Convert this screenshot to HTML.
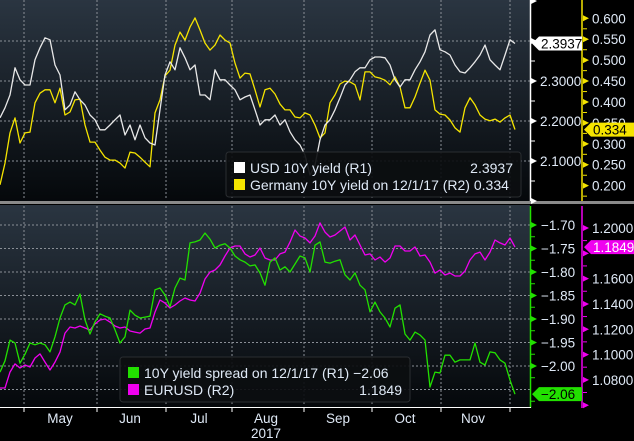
<!DOCTYPE html>
<html><head><meta charset="utf-8">
<style>
html,body{margin:0;padding:0;background:#000;}
svg{display:block;font-family:"Liberation Sans",sans-serif;}
</style></head>
<body>
<svg id="chart" width="634" height="441" viewBox="0 0 634 441" xmlns="http://www.w3.org/2000/svg">
<defs>
<linearGradient id="bg" x1="0" y1="0" x2="0" y2="1">
<stop offset="0" stop-color="#2a3541"/><stop offset="1" stop-color="#05080b"/>
</linearGradient>
</defs>
<rect x="0" y="0" width="530" height="201" fill="url(#bg)"/>
<rect x="0" y="205" width="530" height="202" fill="url(#bg)"/>
<rect x="0" y="201" width="634" height="3" fill="#8a8a8a"/>
<g id="grid"></g>
<g id="series"></g>
<g id="axes"></g>
<g id="legends"></g>
</svg>
<script>
const usd = [2.208,2.233,2.265,2.333,2.303,2.290,2.290,2.353,2.383,2.408,2.403,2.340,2.315,2.228,2.240,2.273,2.253,2.240,2.215,2.203,2.178,2.178,2.190,2.203,2.215,2.165,2.190,2.153,2.190,2.158,2.145,2.140,2.228,2.315,2.348,2.328,2.383,2.358,2.328,2.340,2.265,2.265,2.253,2.328,2.303,2.303,2.290,2.278,2.253,2.260,2.265,2.228,2.190,2.203,2.203,2.215,2.190,2.203,2.173,2.153,2.140,2.115,2.065,2.090,2.153,2.190,2.203,2.228,2.258,2.290,2.303,2.323,2.333,2.333,2.353,2.360,2.360,2.358,2.340,2.303,2.285,2.303,2.303,2.328,2.348,2.373,2.415,2.428,2.378,2.373,2.365,2.340,2.323,2.320,2.333,2.348,2.365,2.390,2.353,2.340,2.328,2.365,2.403,2.3937];
const germany = [0.202,0.254,0.326,0.362,0.302,0.326,0.328,0.398,0.421,0.429,0.429,0.398,0.433,0.369,0.376,0.405,0.407,0.345,0.304,0.304,0.285,0.268,0.261,0.261,0.254,0.242,0.280,0.278,0.268,0.256,0.245,0.374,0.405,0.462,0.476,0.536,0.567,0.548,0.579,0.601,0.572,0.541,0.524,0.536,0.560,0.548,0.541,0.493,0.457,0.469,0.467,0.429,0.388,0.429,0.433,0.419,0.395,0.381,0.381,0.364,0.362,0.374,0.369,0.345,0.314,0.326,0.398,0.417,0.443,0.450,0.448,0.441,0.405,0.472,0.472,0.460,0.457,0.452,0.441,0.460,0.436,0.386,0.386,0.412,0.445,0.476,0.452,0.381,0.371,0.369,0.357,0.338,0.328,0.386,0.410,0.393,0.369,0.359,0.355,0.359,0.352,0.362,0.369,0.334];
const spread = [-2.013,-1.989,-1.945,-1.951,-1.994,-1.975,-1.951,-1.955,-1.951,-1.955,-1.970,-1.938,-1.898,-1.870,-1.864,-1.870,-1.847,-1.902,-1.932,-1.906,-1.889,-1.894,-1.898,-1.923,-1.951,-1.938,-1.881,-1.892,-1.898,-1.896,-1.894,-1.838,-1.834,-1.849,-1.874,-1.834,-1.813,-1.817,-1.738,-1.736,-1.732,-1.717,-1.730,-1.749,-1.743,-1.740,-1.749,-1.766,-1.774,-1.779,-1.787,-1.785,-1.802,-1.828,-1.779,-1.770,-1.796,-1.789,-1.800,-1.783,-1.766,-1.770,-1.800,-1.743,-1.736,-1.779,-1.781,-1.777,-1.774,-1.806,-1.817,-1.802,-1.828,-1.838,-1.885,-1.864,-1.885,-1.898,-1.917,-1.877,-1.870,-1.932,-1.945,-1.928,-1.934,-1.945,-2.045,-2.013,-2.015,-1.977,-1.977,-1.992,-1.987,-1.987,-1.987,-1.951,-1.992,-1.998,-1.970,-1.972,-1.987,-1.994,-2.030,-2.06];
const eurusd = [1.0736,1.0736,1.0862,1.0926,1.0894,1.0918,1.0902,1.0973,1.1005,1.0941,1.0878,1.0941,1.1020,1.1170,1.1218,1.1210,1.1226,1.1210,1.1194,1.1242,1.1273,1.1281,1.1257,1.1226,1.1210,1.1218,1.1186,1.1178,1.1170,1.1202,1.1210,1.1336,1.1431,1.1407,1.1368,1.1392,1.1423,1.1447,1.1431,1.1423,1.1486,1.1597,1.1652,1.1668,1.1708,1.1779,1.1842,1.1858,1.1858,1.1795,1.1771,1.1787,1.1842,1.1763,1.1747,1.1747,1.1795,1.1810,1.1889,1.1984,1.1937,1.1921,1.1882,1.1937,1.2040,1.1968,1.1929,1.1945,1.1976,1.2008,1.1905,1.1945,1.1866,1.1787,1.1795,1.1747,1.1771,1.1731,1.1763,1.1858,1.1858,1.1818,1.1818,1.1850,1.1779,1.1787,1.1731,1.1644,1.1668,1.1629,1.1644,1.1621,1.1621,1.1660,1.1747,1.1795,1.1810,1.1747,1.1810,1.1905,1.1882,1.1866,1.1921,1.1849];
const months = ["May","Jun","Jul","Aug","Sep","Oct","Nov"];
const usdTicks = [2.1,2.2,2.3];
const gerTicks = [0.2,0.25,0.3,0.35,0.4,0.45,0.5,0.55,0.6];
const spreadTicks = [-1.70,-1.75,-1.80,-1.85,-1.90,-1.95,-2.00];
const eurTicks = [1.08,1.10,1.12,1.14,1.16,1.18,1.20];

const NS="http://www.w3.org/2000/svg";
function mk(tag, attrs, parent, text){const e=document.createElementNS(NS,tag);for(const k in attrs)e.setAttribute(k,attrs[k]);if(text!==undefined)e.textContent=text;parent.appendChild(e);return e;}
const N = usd.length;
const xS = i => i*515/(N-1);
const yUsd = v => 41 + (2.4 - v)*400;
const yGer = v => 18.3 + (0.6 - v)/0.00239;
const ySpr = v => 225 + (-1.70 - v)/0.002128;
const yEur = v => 228 + (1.2 - v)/0.00079;
const grid=document.getElementById('grid'), ser=document.getElementById('series'), ax=document.getElementById('axes'), lg=document.getElementById('legends');

// grid
const vx=[24,97,166,232,304,372,441,510];
vx.forEach(x=>{
  let l=mk('line',{x1:x,y1:0,x2:x,y2:200,stroke:'#8a8f96','stroke-width':1,'stroke-dasharray':'2,2'},grid);
  
  
  let l2=mk('line',{x1:x,y1:206,x2:x,y2:406,stroke:'#8a8f96','stroke-width':1,'stroke-dasharray':'2,2'},grid);
  
  
  let t=mk('line',{x1:x,y1:407,x2:x,y2:412,stroke:'#fff','stroke-width':1},ax);
  
  
});
[2.1,2.2,2.3,2.4].forEach(v=>{
  let l=mk('line',{x1:0,y1:yUsd(v),x2:530,y2:yUsd(v),stroke:'#8a8f96','stroke-width':1,'stroke-dasharray':'2,2'},grid);
  
  
});
[-1.70,-1.75,-1.80,-1.85,-1.90,-1.95,-2.00,-2.05].forEach(v=>{
  let l=mk('line',{x1:0,y1:ySpr(v),x2:530,y2:ySpr(v),stroke:'#8a8f96','stroke-width':1,'stroke-dasharray':'2,2'},grid);
  
  
});

// series
function line(arr, yf, color, name){
  const d=arr.map((v,i)=>(i?'L':'M')+xS(i).toFixed(1)+','+yf(v).toFixed(1)).join('');
  const p=mk('path',{d:d,fill:'none',stroke:color,'stroke-width':1.3,'stroke-linejoin':'round'},ser);
  
  
}
line(germany,yGer,'#f5e400','germany-10y-line');
line(usd,yUsd,'#e8e8e8','usd-10y-line');
line(eurusd,yEur,'#f000f0','eurusd-line');
line(spread,ySpr,'#22e000','spread-line');

// axes
function axisLine(x,y1,y2,color,name){const l=mk('line',{x1:x,y1:y1,x2:x,y2:y2,stroke:color,'stroke-width':1.5},ax);}
axisLine(530.5,0,201,'#ffffff','usd-axis-line');
axisLine(582,0,201,'#f5e400','germany-axis-line');
axisLine(530.5,206,408,'#22e000','spread-axis-line');
axisLine(582,206,408,'#f000f0','eurusd-axis-line');
const xl=mk('line',{x1:0,y1:407.5,x2:531,y2:407.5,stroke:'#fff','stroke-width':1},ax);



function tri(x,y,color,name){const p=mk('path',{d:`M${x},${y-3}L${x+6},${y}L${x},${y+3}Z`,fill:color},ax);}
function minor(x,y,color){const l=mk('line',{x1:x,y1:y,x2:x+4,y2:y,stroke:color,'stroke-width':1},ax);}
function label(x,y,txt,color,name){const t=mk('text',{x:x,y:y+5,fill:color,'font-size':13.5},ax,txt);}

[2.0,2.1,2.2,2.3,2.4,2.5].forEach(v=>{const y=yUsd(v);if(y>=0&&y<=201)tri(531,y,'#fff','usd-tick');});
[2.05,2.15,2.25,2.35].forEach(v=>minor(531,yUsd(v),'#fff'));
usdTicks.forEach(v=>label(540,yUsd(v),v.toFixed(4),'#dfe9f6','usd-tick-label'));
gerTicks.forEach(v=>{tri(583,yGer(v),'#f5e400','germany-tick');label(592,yGer(v),v.toFixed(3),'#dfe9f6','germany-tick-label');});
gerTicks.forEach(v=>minor(583,yGer(v)+10.5,'#f5e400'));
spreadTicks.forEach(v=>{tri(531,ySpr(v),'#22e000','spread-tick');label(541,ySpr(v),'\u2212'+Math.abs(v).toFixed(2),'#dfe9f6','spread-tick-label');});
[-1.725,-1.775,-1.825,-1.875,-1.925,-1.975,-2.025,-2.075].forEach(v=>minor(531,ySpr(v),'#22e000'));
eurTicks.forEach(v=>{tri(583,yEur(v),'#f000f0','eurusd-tick');minor(583,yEur(v)+12.6,'#f000f0');});
eurTicks.forEach(v=>{if(v!==1.18)label(592,yEur(v),v.toFixed(4),'#dfe9f6','eurusd-tick-label');});
tri(583,yEur(1.06),'#f000f0','eurusd-tick');

const mx=[60,130,199,266,338,405,473];
months.forEach((m,i)=>{const t=mk('text',{x:mx[i],y:423,fill:'#dfe9f6','font-size':13.5,'text-anchor':'middle'},ax,m);});
const yr=mk('text',{x:266,y:438,fill:'#dfe9f6','font-size':13.5,'text-anchor':'middle'},ax,'2017');



// value tags
function tag(x,y,w,bg,fg,txt,name){
  const g=mk('g',{},ax);
  
  
  mk('path',{d:`M${x},${y}L${x+7},${y-7}L${x+w},${y-7}L${x+w},${y+7}L${x+7},${y+7}Z`,fill:bg},g);
  mk('text',{x:x+9,y:y+5,fill:fg,'font-size':13.5},g,txt);
}
tag(532,yUsd(usd[N-1]),50,'#ffffff','#000','2.3937','usd-value-tag');
tag(584,yGer(germany[N-1]),50,'#f5e400','#000','0.334','germany-value-tag');
tag(584,yEur(eurusd[N-1]),50,'#f000f0','#fff','1.1849','eurusd-value-tag');
tag(532,ySpr(spread[N-1]),50,'#22e000','#000','\u22122.06','spread-value-tag');

// legends
function legend(x,y,w,rows,name){
  const g=mk('g',{},lg);
  
  
  mk('rect',{x:x,y:y,width:w,height:45,rx:3,fill:'#0c0e10','fill-opacity':0.92,stroke:'#2a2d31'},g);
  rows.forEach((r,i)=>{
    const ry=y+16+i*17;
    const e=mk('g',{},g);
    
    
    mk('rect',{x:x+8,y:ry-6,width:11,height:11,fill:r[0]},e);
    mk('text',{x:x+24,y:ry+5,fill:'#dfe9f6','font-size':14},e,r[1]);
    mk('text',{x:x+w-8,y:ry+5,fill:'#dfe9f6','font-size':14,'text-anchor':'end'},e,r[2]);
  });
}
legend(226,152,295,[['#ffffff','USD 10Y yield (R1)','2.3937'],['#f5e400','Germany 10Y yield on 12/1/17 (R2) 0.334','']],'top-legend');
legend(120,357,290,[['#22e000','10Y yield spread on 12/1/17 (R1) \u22122.06',''],['#f000f0','EURUSD (R2)','1.1849']],'bottom-legend');
</script>
</body></html>
